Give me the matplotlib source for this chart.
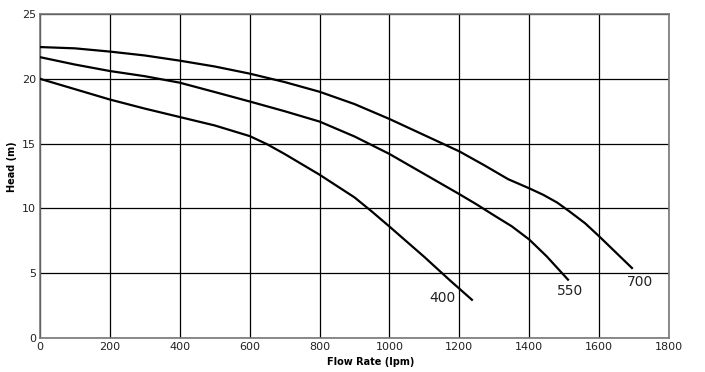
import matplotlib
matplotlib.use("Agg")
import matplotlib.pyplot as plt

flow_700 = [0, 100, 200, 300, 400, 500, 600, 700, 800, 900, 1000, 1100, 1200, 1270, 1340, 1400, 1440, 1480, 1516, 1560, 1600, 1694]
head_700 = [22.45, 22.35, 22.1, 21.8, 21.4, 20.95, 20.4, 19.75, 19.0, 18.05, 16.9, 15.65, 14.4, 13.35, 12.25, 11.55, 11.05, 10.45, 9.75, 8.85, 7.85, 5.4]

flow_550 = [0, 100, 200, 300, 400, 500, 600, 700, 800, 900, 1000, 1100, 1200, 1250, 1300, 1350, 1400, 1450, 1511]
head_550 = [21.67, 21.1, 20.6, 20.2, 19.7, 18.98, 18.25, 17.5, 16.7, 15.55, 14.2, 12.65, 11.1, 10.3, 9.45, 8.62, 7.6, 6.3, 4.5]

flow_400 = [0, 100, 200, 300, 400, 500, 600, 650, 700, 800, 900, 950, 1000, 1100, 1173, 1236]
head_400 = [20.0, 19.2, 18.4, 17.7, 17.05, 16.4, 15.58, 14.95, 14.2, 12.6, 10.85, 9.75, 8.6, 6.25, 4.45, 2.95]

curve_labels = ["700", "550", "400"]
label_x = [1717, 1517, 1153]
label_y = [4.3, 3.6, 3.1]

x_ticks = [0, 200, 400, 600, 800, 1000, 1200, 1400, 1600, 1800]
y_ticks = [0, 5, 10, 15, 20, 25]

plt.rcParams['font.family'] = ['DejaVu Sans']

fig = plt.figure(figsize=(7.05, 3.72), dpi=100)
ax = fig.add_axes([40/705, 34/372, 629/705, 324/372])

for fx, hy in [(flow_700, head_700), (flow_550, head_550), (flow_400, head_400)]:
    ax.plot(fx, hy, color='black', linewidth=1.6, solid_joinstyle='round', zorder=3)

for lab, lx, ly in zip(curve_labels, label_x, label_y):
    ax.text(lx, ly, lab, fontsize=10, color='#222222', ha='center', va='center')

ax.set_xlim(0, 1800)
ax.set_ylim(0, 25)
ax.set_xticks(x_ticks)
ax.set_yticks(y_ticks)
ax.grid(True, color='black', linewidth=0.9)
ax.set_axisbelow(True)
for s in ax.spines.values():
    s.set_color('#777777')
    s.set_linewidth(1.2)
ax.tick_params(length=0, labelsize=8, colors='#222222', pad=3)

fig.text(371/705, 1 - 362/372, 'Flow Rate (lpm)', fontsize=7, fontweight='bold',
         ha='center', va='center', color='black')
fig.text(12/705, 1 - 167/372, 'Head (m)', fontsize=7, fontweight='bold',
         ha='center', va='center', rotation=90, color='black')

fig.savefig('out.png', dpi=100)
